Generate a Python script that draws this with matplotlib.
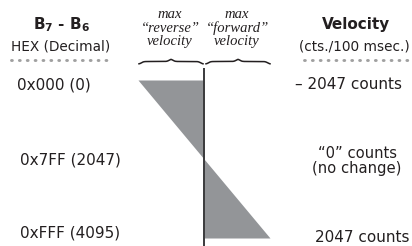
import matplotlib
matplotlib.use("Agg")
import matplotlib.pyplot as plt
import numpy as np
from matplotlib.lines import Line2D

# ---- data ----
codes = [0, 2047, 4095]
velocity = [-2047, 0, 2047]
code_labels = ["0x000 (0)", "0x7FF (2047)", "0xFFF (4095)"]
velocity_labels = ["\u2013 2047 counts", "\u201c0\u201d counts\n(no change)", "2047 counts"]
col_headers_italic = ["max\n\u201creverse\u201d\nvelocity", "max\n\u201cforward\u201d\nvelocity"]

W, H = 412, 246
SANS = 'DejaVu Sans'
plt.rcParams['mathtext.fontset'] = 'custom'
plt.rcParams['mathtext.rm'] = SANS
plt.rcParams['mathtext.bf'] = SANS + ':bold'
TXT = '#231f20'

fig = plt.figure(figsize=(W / 100, H / 100), dpi=100)

def fx(x):
    return x / W

def fy(y):
    return 1 - y / H

# axes: velocity horizontally, code vertically (inverted)
x0, x1 = 138, 270
y0, y1 = 80, 238
ax = fig.add_axes([fx(x0), fy(y1), (x1 - x0) / W, (y1 - y0) / H])
ax.set_xlim(-2047, 2047)
ax.set_ylim(4095, 0)
ax.axis('off')
ax.fill_betweenx(codes, velocity, 0, color='#939598', lw=0)
ax.plot([0, 0], [-310, 4320], color='#3a3a3c', lw=1.4, clip_on=False,
        solid_capstyle='butt')

# headers
fig.text(fx(62), fy(25), r"B$_\mathbf{7}$ - B$_\mathbf{6}$", fontfamily=SANS,
         fontweight='bold', fontsize=11, ha='center', va='center', color=TXT)
fig.text(fx(61), fy(46), "HEX (Decimal)", fontfamily=SANS, fontsize=9.8,
         ha='center', va='center', color=TXT)
fig.text(fx(356), fy(24), "Velocity", fontfamily=SANS, fontweight='bold',
         fontsize=11, ha='center', va='center', color=TXT)
fig.text(fx(354), fy(46), "(cts./100 msec.)", fontfamily=SANS, fontsize=9.8,
         ha='center', va='center', color=TXT)

for xc, t in zip([170, 237], col_headers_italic):
    fig.text(fx(xc), fy(28), t, fontfamily='Liberation Serif', style='italic',
             fontsize=10.5, ha='center', va='center', color=TXT, linespacing=1.0)

# dotted rules
for xa, xb in [(11, 112), (304, 408)]:
    fig.add_artist(Line2D([fx(xa), fx(xb)], [fy(60), fy(60)], color='#a0a0a0',
                          lw=2.1, linestyle=(0, (0.3, 2.4)), dash_capstyle='round'))

# braces
def brace(xa, xb, y, h=5):
    t = np.linspace(0, 1, 300)
    xs = xa + t * (xb - xa)
    s = np.where(t <= 0.5, t, 1 - t) * 2
    yy = 1 / (1 + np.exp(-30 * (s - 0.08))) + 1 / (1 + np.exp(-30 * (s - 0.94)))
    ys = y + h * 0.5 - (yy - 1) * h * 0.5
    fig.add_artist(Line2D(fx(xs), fy(ys), color=TXT, lw=1.1))

brace(139, 203, 59)
brace(206, 270, 59)

# row labels
for y, t in zip([85, 160, 233], code_labels):
    fig.text(fx(17 if y < 100 else 20), fy(y), t, fontfamily=SANS, fontsize=11,
             ha='left', va='center', color=TXT)

fig.text(fx(295), fy(85), velocity_labels[0], fontfamily=SANS, fontsize=11,
         ha='left', va='center', color=TXT)
fig.text(fx(357), fy(161), velocity_labels[1], fontfamily=SANS, fontsize=10.6,
         ha='center', va='center', color=TXT, linespacing=1.05)
fig.text(fx(315), fy(238), velocity_labels[2], fontfamily=SANS, fontsize=11,
         ha='left', va='center', color=TXT)

fig.savefig("out.png", dpi=100)
